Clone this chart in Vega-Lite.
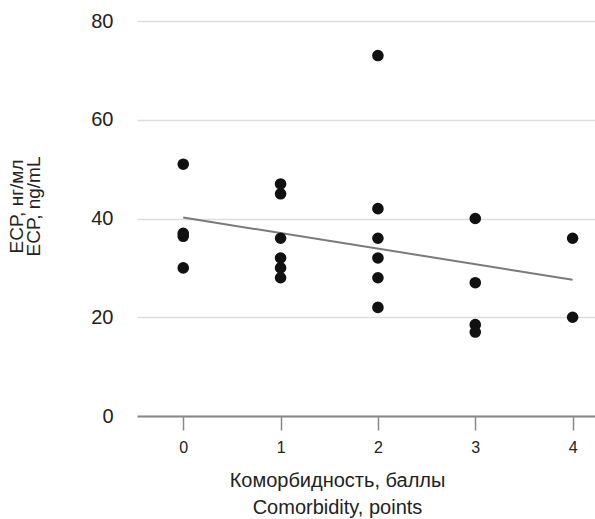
{
  "$schema": "https://vega.github.io/schema/vega-lite/v6.json",
  "width": 458,
  "height": 395,
  "autosize": {"type": "none"},
  "padding": {"left": 137, "top": 21, "right": 0, "bottom": 103},
  "background": "white",
  "config": {
    "view": {"stroke": null},
    "font": "Liberation Sans"
  },
  "datasets": {
    "pts": [
      {"score": 0, "ecp": 51},
      {"score": 0, "ecp": 37},
      {"score": 0, "ecp": 36.4},
      {"score": 0, "ecp": 30},
      {"score": 1, "ecp": 47},
      {"score": 1, "ecp": 45},
      {"score": 1, "ecp": 36},
      {"score": 1, "ecp": 32},
      {"score": 1, "ecp": 30},
      {"score": 1, "ecp": 28},
      {"score": 2, "ecp": 73},
      {"score": 2, "ecp": 42},
      {"score": 2, "ecp": 36},
      {"score": 2, "ecp": 32},
      {"score": 2, "ecp": 28},
      {"score": 2, "ecp": 22},
      {"score": 3, "ecp": 40},
      {"score": 3, "ecp": 27},
      {"score": 3, "ecp": 18.5},
      {"score": 3, "ecp": 17},
      {"score": 4, "ecp": 36},
      {"score": 4, "ecp": 20}
    ],
    "fit": [
      {"score": 0, "ecp": 40.2},
      {"score": 4, "ecp": 27.6}
    ]
  },
  "layer": [
    {
      "data": {"name": "fit"},
      "mark": {"type": "line", "color": "#7a7a7a", "strokeWidth": 2},
      "encoding": {
        "x": {"field": "score", "type": "quantitative"},
        "y": {"field": "ecp", "type": "quantitative"}
      }
    },
    {
      "data": {"name": "pts"},
      "mark": {"type": "circle", "color": "#111111", "opacity": 1, "size": 135},
      "encoding": {
        "x": {
          "field": "score",
          "type": "quantitative",
          "scale": {"domain": [-0.475, 4.23], "nice": false, "zero": false},
          "axis": {
            "values": [0, 1, 2, 3, 4],
            "format": "d",
            "grid": false,
            "domainColor": "#888888",
            "domainWidth": 2,
            "tickColor": "#888888",
            "tickWidth": 1.5,
            "tickSize": 14,
            "labelFontSize": 16,
            "labelColor": "#222222",
            "labelPadding": 9,
            "title": ["Коморбидность, баллы", "Comorbidity, points"],
            "titleFontSize": 20,
            "titleFontWeight": "normal",
            "titleColor": "#222222",
            "titleX": 200,
            "titleAlign": "center",
            "titleLineHeight": 27,
            "titlePadding": 15
          }
        },
        "y": {
          "field": "ecp",
          "type": "quantitative",
          "scale": {"domain": [0, 80], "nice": false},
          "axis": {
            "values": [0, 20, 40, 60, 80],
            "domain": false,
            "ticks": false,
            "grid": true,
            "gridColor": "#dddddd",
            "gridWidth": 1.5,
            "labelFontSize": 20,
            "labelColor": "#222222",
            "labelPadding": 24,
            "title": ["ECP, нг/мл", "ECP, ng/mL"],
            "titleFontSize": 19,
            "titleFontWeight": "normal",
            "titleColor": "#222222",
            "titleLineHeight": 17,
            "titleY": 185,
            "titlePadding": 47
          }
        }
      }
    }
  ]
}
